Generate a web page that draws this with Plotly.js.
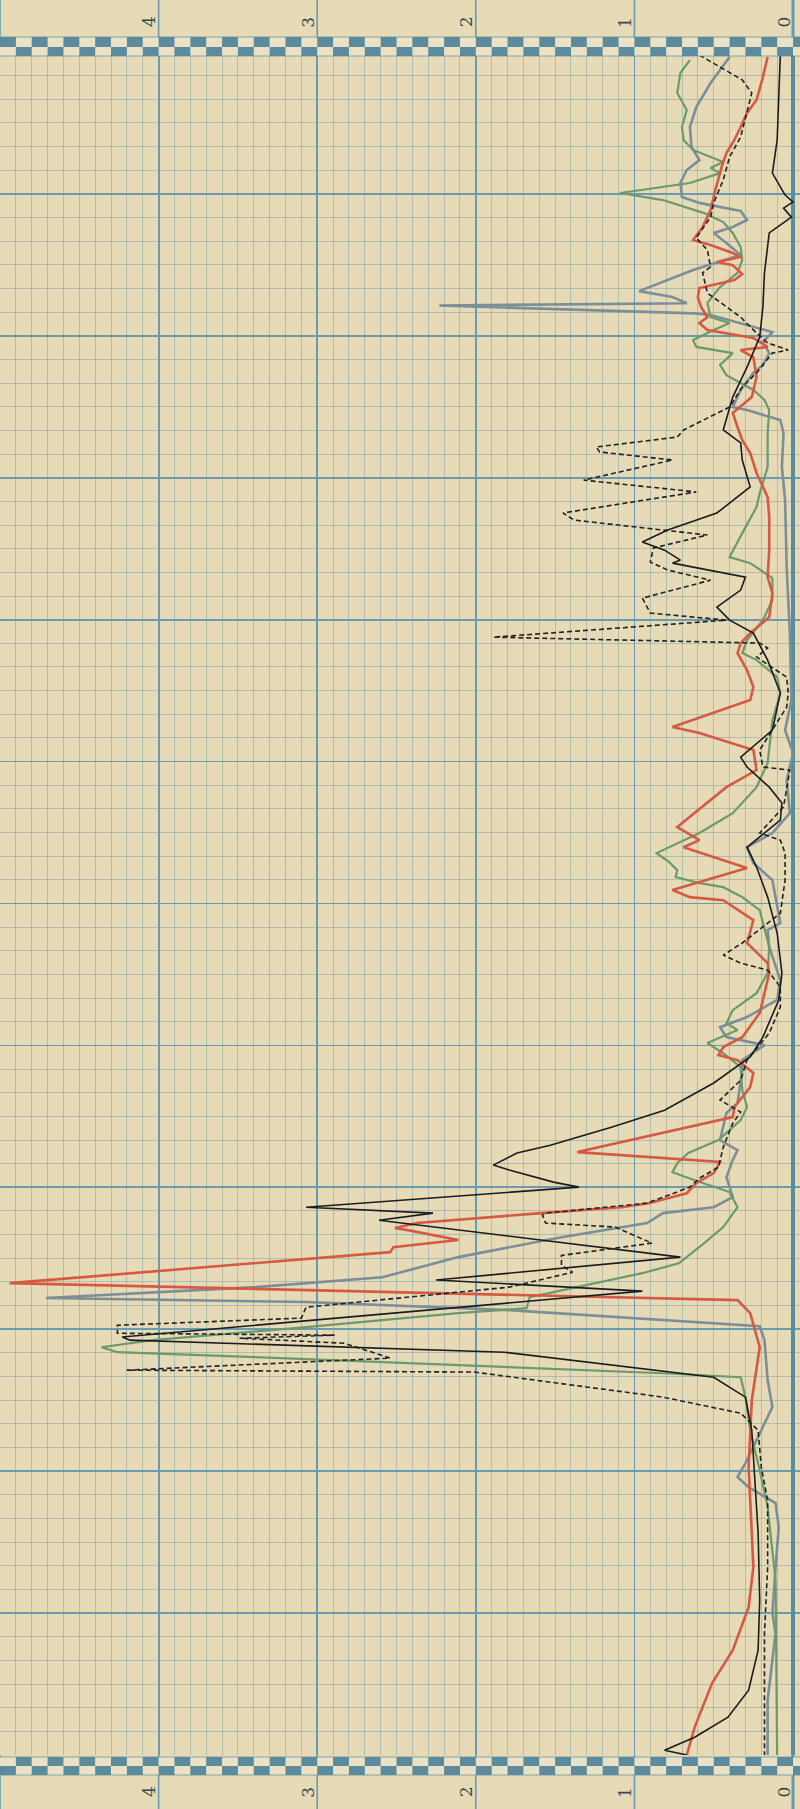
<!DOCTYPE html>
<html><head><meta charset="utf-8">
<script src="https://cdn.plot.ly/plotly-3.0.1.min.js"></script>
<style>html,body{margin:0;padding:0;background:#e7dab7;} #chart{width:800px;height:1809px;}</style>
</head><body><div id="chart"></div>
<script>
// value axis tick labels (value axis runs horizontally, 0 at right)
const tickVals = [4, 3, 2, 1, 0];
const tickLabels = ['4', '3', '2', '1', '0'];

// each series: [position (minor divisions from top), value]
const blackSolid = [[0.13,0.08],[2.03,0.09],[3.72,0.10],[5.12,0.13],[6.05,0.05],[6.34,0.00],[6.60,0.06],[6.98,0.01],[7.65,0.15],[9.34,0.18],[10.78,0.19],[12.05,0.21],[13.32,0.29],[14.59,0.38],[15.98,0.44],[16.53,0.33],[17.25,0.32],[18.39,0.27],[19.49,0.48],[20.21,0.79],[20.72,0.95],[21.06,0.81],[21.48,0.71],[21.61,0.76],[22.20,0.30],[22.75,0.33],[23.47,0.48],[24.02,0.40],[24.57,0.25],[25.71,0.16],[27.10,0.08],[28.67,0.13],[29.81,0.33],[30.23,0.29],[31.08,0.15],[31.75,0.07],[32.47,0.08],[33.62,0.29],[34.46,0.23],[35.73,0.16],[37.25,0.10],[38.94,0.07],[40.08,0.09],[41.65,0.19],[42.49,0.27],[43.59,0.50],[44.74,0.81],[45.45,1.14],[46.22,1.53],[46.55,1.74],[47.06,1.89],[47.27,1.79],[47.78,1.51],[47.99,1.35],[48.84,3.07],[49.09,2.27],[49.39,2.61],[50.95,0.71],[51.92,2.25],[52.39,0.95],[53.49,2.81],[54.33,4.23],[54.46,4.18],[54.97,1.82],[56.03,0.50],[56.87,0.30],[58.27,0.26],[62.62,0.22],[65.45,0.21],[67.57,0.22],[69.26,0.28],[70.40,0.41],[71.25,0.62],[71.80,0.81],[72.0,0.67]];

const redLine = [[0.21,0.16],[1.06,0.19],[2.03,0.23],[2.58,0.29],[3.17,0.33],[3.72,0.37],[4.27,0.42],[4.86,0.45],[5.84,0.49],[6.68,0.52],[7.40,0.57],[7.95,0.63],[8.16,0.52],[8.50,0.38],[8.67,0.33],[8.88,0.48],[9.01,0.38],[9.39,0.32],[9.64,0.37],[9.98,0.59],[10.36,0.60],[10.78,0.58],[11.21,0.54],[11.46,0.59],[11.75,0.54],[11.92,0.38],[12.09,0.25],[12.47,0.16],[12.60,0.33],[12.90,0.25],[13.74,0.23],[14.59,0.26],[15.26,0.38],[15.86,0.35],[16.41,0.32],[16.96,0.27],[17.80,0.23],[18.82,0.16],[19.66,0.15],[21.06,0.15],[22.20,0.16],[22.88,0.13],[23.89,0.15],[24.57,0.27],[24.99,0.33],[25.41,0.35],[26.13,0.29],[26.85,0.25],[27.40,0.27],[28.54,0.76],[28.79,0.59],[29.51,0.25],[30.36,0.23],[31.08,0.42],[32.77,0.73],[33.32,0.59],[33.62,0.69],[34.50,0.29],[35.43,0.76],[35.73,0.65],[35.86,0.44],[36.70,0.25],[37.67,0.29],[38.52,0.16],[38.94,0.15],[40.08,0.19],[40.63,0.21],[41.65,0.32],[42.07,0.44],[42.41,0.47],[42.62,0.35],[43.17,0.25],[43.76,0.27],[44.61,0.37],[45.03,0.38],[46.51,1.36],[46.93,0.46],[47.40,0.50],[47.82,0.61],[48.25,0.67],[48.67,0.91],[48.84,1.08],[49.09,1.59],[49.51,2.37],[49.72,2.51],[49.81,2.43],[50.23,2.11],[50.53,2.52],[50.74,2.54],[52.05,4.94],[52.77,0.35],[53.32,0.27],[54.76,0.21],[57.00,0.26],[59.83,0.28],[62.62,0.26],[64.06,0.25],[65.75,0.28],[67.57,0.38],[68.96,0.51],[70.82,0.62],[72.0,0.67]];

const greenLine = [[0.34,0.65],[0.89,0.71],[1.73,0.73],[2.45,0.67],[3.17,0.70],[3.72,0.69],[4.14,0.63],[4.65,0.44],[4.90,0.52],[5.12,0.46],[5.54,0.65],[5.96,1.09],[6.26,0.82],[6.81,0.56],[7.19,0.44],[7.65,0.38],[8.25,0.33],[8.79,0.32],[9.34,0.35],[9.94,0.46],[10.61,0.54],[11.21,0.52],[11.46,0.40],[11.75,0.50],[12.18,0.63],[12.47,0.61],[12.73,0.38],[13.23,0.46],[13.66,0.42],[14.00,0.33],[14.29,0.25],[14.71,0.18],[15.14,0.15],[16.11,0.16],[17.55,0.16],[18.65,0.21],[19.24,0.23],[20.34,0.32],[21.35,0.40],[21.61,0.27],[22.24,0.13],[23.17,0.13],[24.02,0.19],[24.86,0.29],[25.41,0.32],[25.71,0.23],[26.43,0.10],[27.10,0.08],[28.25,0.13],[30.06,0.16],[31.08,0.23],[32.18,0.38],[33.02,0.59],[33.87,0.86],[34.25,0.78],[34.59,0.73],[34.88,0.74],[35.14,0.59],[35.31,0.44],[35.73,0.32],[36.28,0.21],[37.84,0.15],[38.94,0.16],[39.79,0.23],[40.51,0.38],[41.06,0.42],[41.35,0.35],[41.90,0.54],[42.33,0.44],[42.92,0.33],[43.89,0.32],[44.61,0.29],[45.16,0.33],[46.00,0.47],[46.55,0.66],[46.98,0.73],[47.36,0.76],[47.70,0.62],[48.20,0.40],[48.84,0.35],[49.68,0.44],[50.36,0.56],[51.21,0.72],[51.63,0.95],[52.35,1.46],[52.64,1.66],[53.11,1.68],[53.32,2.11],[53.91,3.07],[54.46,4.04],[54.76,4.36],[54.97,4.26],[55.18,3.39],[55.52,2.11],[55.86,0.82],[56.03,0.33],[56.87,0.30],[58.27,0.27],[59.96,0.21],[61.52,0.16],[64.61,0.11],[72.0,0.10]];

const grayLine = [[0.21,0.40],[1.31,0.52],[2.33,0.61],[3.17,0.65],[4.02,0.64],[4.57,0.59],[4.99,0.67],[5.54,0.71],[6.13,0.70],[6.38,0.59],[6.72,0.33],[7.10,0.29],[7.40,0.38],[7.65,0.50],[8.08,0.42],[8.58,0.33],[9.22,0.63],[10.11,0.97],[10.36,0.76],[10.62,0.67],[10.72,2.23],[11.05,0.62],[11.12,0.52],[11.84,0.13],[12.26,0.19],[12.73,0.15],[13.23,0.19],[13.57,0.25],[14.29,0.33],[15.01,0.38],[15.14,0.29],[15.56,0.08],[16.11,0.06],[17.55,0.07],[18.94,0.05],[21.78,0.04],[24.57,0.02],[27.40,0.01],[28.67,0.05],[29.64,0.00],[30.78,0.04],[32.18,0.02],[33.02,0.13],[33.62,0.29],[34.29,0.25],[35.01,0.13],[36.83,0.08],[37.12,0.16],[37.84,0.15],[39.24,0.08],[40.08,0.10],[40.80,0.29],[41.23,0.46],[41.65,0.42],[41.99,0.18],[42.62,0.32],[43.04,0.32],[44.44,0.35],[44.86,0.42],[46.00,0.46],[46.43,0.35],[46.85,0.38],[47.57,0.42],[48.41,0.38],[48.84,0.50],[49.09,0.82],[49.51,0.92],[50.11,1.46],[50.95,2.11],[51.80,2.59],[52.22,3.39],[52.68,4.71],[52.85,3.07],[53.19,1.79],[53.87,0.21],[54.46,0.18],[56.15,0.16],[57.29,0.13],[58.27,0.20],[59.66,0.30],[60.25,0.35],[60.68,0.28],[61.35,0.11],[62.37,0.09],[64.06,0.11],[66.00,0.13],[66.85,0.11],[67.99,0.13],[69.68,0.16],[72.0,0.16]];

const blackDashed = [[0.13,0.59],[0.63,0.46],[1.18,0.32],[1.73,0.26],[2.58,0.29],[3.59,0.33],[4.44,0.40],[5.41,0.44],[6.38,0.50],[6.98,0.52],[7.86,0.61],[8.37,0.54],[9.09,0.52],[9.34,0.57],[10.19,0.54],[10.78,0.42],[11.21,0.33],[11.88,0.23],[12.30,0.16],[12.60,0.03],[12.73,0.13],[13.57,0.23],[14.16,0.32],[15.01,0.40],[15.98,0.69],[16.28,0.73],[16.70,1.24],[16.91,1.22],[17.25,0.76],[18.10,1.32],[18.60,0.61],[19.49,1.45],[19.79,1.38],[20.42,0.54],[20.97,0.88],[21.56,0.90],[21.90,0.79],[22.33,0.52],[23.09,0.95],[23.72,0.90],[24.02,0.42],[24.74,1.89],[24.99,0.21],[25.20,0.16],[25.58,0.23],[26.43,0.04],[27.10,0.03],[27.70,0.04],[29.51,0.21],[30.23,0.19],[30.36,0.02],[31.92,0.06],[33.02,0.21],[33.32,0.08],[33.87,0.05],[35.01,0.05],[36.41,0.08],[37.67,0.32],[38.18,0.44],[38.52,0.33],[38.82,0.16],[39.53,0.08],[40.38,0.08],[41.48,0.15],[42.20,0.24],[42.62,0.29],[43.47,0.33],[44.31,0.46],[44.82,0.33],[45.29,0.38],[46.30,0.44],[47.15,0.47],[47.61,0.59],[47.99,0.65],[48.67,0.92],[49.09,1.56],[49.18,1.58],[49.51,1.56],[49.68,1.12],[50.36,0.89],[50.88,1.46],[51.30,1.46],[51.59,1.39],[52.22,1.79],[53.07,3.07],[53.53,3.10],[53.83,4.26],[54.17,4.26],[54.25,2.89],[54.38,3.49],[54.59,2.83],[55.22,2.54],[55.73,4.20],[55.81,2.01],[56.87,0.82],[57.55,0.33],[58.27,0.22],[59.83,0.20],[61.23,0.16],[64.06,0.16],[66.85,0.18],[72.0,0.18]];

function mkTrace(pairs, color, width, dash) {
  return {
    type: 'scatter', mode: 'lines',
    x: pairs.map(p => p[1]), y: pairs.map(p => p[0]),
    line: {color: color, width: width, dash: dash || 'solid'},
    hoverinfo: 'skip', showlegend: false
  };
}

const traces = [
  mkTrace(grayLine, '#7c8f98', 2.6),
  mkTrace(greenLine, '#6c9a6a', 2.2),
  mkTrace(redLine, '#d65a43', 2.6),
  mkTrace(blackDashed, '#222222', 1.6, '5px,3px'),
  mkTrace(blackSolid, '#1c1c1c', 1.6)
];

// geometry helpers for decoration (paper fractions)
const X0 = 5.0, X1 = -0.044;
const TOP = 52, BOT = 1755, H = 1809;
function xp(v) { return (X0 - v) / (X0 - X1); }
function yp(py) { return (BOT - py) / (BOT - TOP); }

const paper = '#e7dab7';
const gridMajor = '#6a9bae';
const gridMinor = 'rgba(100,150,162,0.42)';
const checkDark = '#5b8b9c';

const shapes = [];
// major vertical lines running through the label margins
[5, 4, 3, 2, 1, 0].forEach(v => {
  [[0, TOP], [BOT, H]].forEach(r => {
    shapes.push({type: 'line', xref: 'paper', yref: 'paper', x0: xp(v), x1: xp(v), y0: yp(r[0]), y1: yp(r[1]),
      line: {color: gridMajor, width: v === 0 ? 3 : 1.6}, layer: 'below'});
  });
});
// checkered borders
const bands = [
  {y0: 37, y1: 47, even: true}, {y0: 47, y1: 56, even: false},
  {y0: 1757, y1: 1766, even: false}, {y0: 1766, y1: 1775, even: true}
];
bands.forEach(b => {
  shapes.push({type: 'rect', xref: 'paper', yref: 'paper', x0: 0, x1: 1, y0: yp(b.y0), y1: yp(b.y1),
    fillcolor: '#ebe1c5', line: {width: 0}, layer: 'above'});
  for (let n = 50; n >= -1; n--) {
    const isEven = (n % 2 === 0);
    if (isEven === b.even) {
      shapes.push({type: 'rect', xref: 'paper', yref: 'paper', x0: xp(n / 10), x1: xp((n - 1) / 10),
        y0: yp(b.y0), y1: yp(b.y1), fillcolor: checkDark, line: {width: 0}, layer: 'above'});
    }
  }
});
[37, 56, 1757, 1775].forEach(py => {
  shapes.push({type: 'line', xref: 'paper', yref: 'paper', x0: 0, x1: 1, y0: yp(py), y1: yp(py),
    line: {color: 'rgba(90,139,156,0.7)', width: 1}, layer: 'above'});
});

const annotations = [];
tickVals.forEach((v, i) => {
  [22, 1792].forEach(py => {
    annotations.push({xref: 'x', yref: 'paper', x: v + 0.06, y: yp(py), text: tickLabels[i],
      showarrow: false, textangle: -90, xanchor: 'center', yanchor: 'middle',
      font: {family: 'DejaVu Serif, Liberation Serif, serif', size: 17, color: '#3a4850'}});
  });
});

const layout = {
  width: 800, height: 1809,
  margin: {l: 0, r: 0, t: TOP, b: H - BOT, pad: 0},
  paper_bgcolor: paper, plot_bgcolor: paper,
  showlegend: false,
  xaxis: {range: [X0, X1], tick0: 0, dtick: 1, showgrid: true, gridcolor: gridMajor, gridwidth: 1.8,
    minor: {tick0: 0, dtick: 0.1, showgrid: true, gridcolor: gridMinor, gridwidth: 1},
    zeroline: true, zerolinecolor: '#5a8c9f', zerolinewidth: 4,
    showticklabels: false, ticks: '', showline: false, fixedrange: true},
  yaxis: {range: [72, 0], tick0: 0, dtick: 6, showgrid: true, gridcolor: gridMajor, gridwidth: 1.8,
    minor: {tick0: 0, dtick: 1, showgrid: true, gridcolor: gridMinor, gridwidth: 1},
    zeroline: false, showticklabels: false, ticks: '', showline: false, fixedrange: true},
  shapes: shapes,
  annotations: annotations
};

Plotly.newPlot('chart', traces, layout, {staticPlot: true, displayModeBar: false});
</script>
</body></html>
